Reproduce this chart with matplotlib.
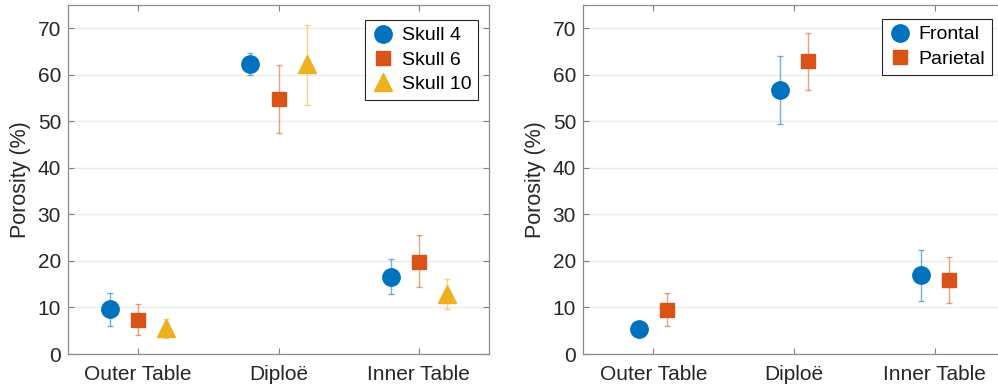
import matplotlib
matplotlib.use("Agg")
import matplotlib.pyplot as plt
import numpy as np

plt.rcParams['font.family'] = ['Liberation Sans', 'DejaVu Sans']

categories = ["Outer Table", "Diploë", "Inner Table"]

# Left panel: per-skull porosity (mean, lower, upper)
skull_names = ["Skull 4", "Skull 6", "Skull 10"]
skull4_mean = [9.7, 62.3, 16.5]
skull4_low = [6.0, 60.0, 12.8]
skull4_high = [13.2, 64.7, 20.5]
skull6_mean = [7.2, 54.8, 19.8]
skull6_low = [4.0, 47.6, 14.3]
skull6_high = [10.8, 62.0, 25.6]
skull10_mean = [5.6, 62.3, 13.0]
skull10_low = [3.4, 53.5, 9.7]
skull10_high = [7.5, 70.8, 16.1]

# Right panel: per-bone porosity
bone_names = ["Frontal", "Parietal"]
frontal_mean = [5.3, 56.7, 17.0]
frontal_low = [5.3, 49.4, 11.4]
frontal_high = [5.3, 64.1, 22.4]
parietal_mean = [9.5, 62.9, 15.8]
parietal_low = [6.0, 56.8, 11.0]
parietal_high = [13.2, 69.0, 20.8]

colors = ['#0072BD', '#D95319', '#EDB120']
markers = ['o', 's', '^']
msizes = [12.5, 10, 13]

W, H = 998, 391
fig = plt.figure(figsize=(W / 100, H / 100), dpi=100)

def make_ax(left_px, right_px):
    top_px, bot_px = 5, 354
    return fig.add_axes([left_px / W, (H - bot_px) / H,
                         (right_px - left_px) / W, (bot_px - top_px) / H])

def style(ax):
    ax.set_xlim(0.5, 3.5)
    ax.set_ylim(0, 75)
    ax.set_xticks([1, 2, 3])
    ax.set_xticklabels(categories, fontsize=15, color='#262626')
    ax.set_yticks(np.arange(0, 71, 10))
    ax.tick_params(axis='y', labelsize=15, labelcolor='#262626', pad=5)
    ax.tick_params(direction='in', top=True, right=True, length=4,
                   color='#808080', width=0.8)
    ax.tick_params(axis='x', pad=8)
    ax.grid(True, axis='y', color='#ebebeb', linewidth=1.0)
    ax.set_axisbelow(True)
    for s in ax.spines.values():
        s.set_color('#8c8c8c')
        s.set_linewidth(0.9)
    ax.set_ylabel("Porosity (%)", fontsize=15.5, color='#262626', labelpad=5)

def draw(ax, means, lows, highs, offsets, names, anchor_px):
    x = np.arange(1, 4)
    for i, (m, lo, hi, off, nm) in enumerate(zip(means, lows, highs, offsets, names)):
        m = np.array(m); lo = np.array(lo); hi = np.array(hi)
        ax.errorbar(x + off, m, yerr=[m - lo, hi - m], fmt='none',
                    ecolor=colors[i], alpha=0.55, elinewidth=1.0,
                    capsize=2.5, capthick=1.0, zorder=2)
        ax.plot(x + off, m, linestyle='none', marker=markers[i],
                markersize=msizes[i], color=colors[i], label=nm, zorder=3)
    ax_right, ax_top = anchor_px
    leg = ax.legend(loc='upper right', fontsize=14, frameon=True, fancybox=False,
                    edgecolor='#262626', framealpha=1, borderpad=0.35,
                    handletextpad=0.42, labelspacing=0.35, handlelength=1.1,
                    borderaxespad=0,
                    bbox_to_anchor=(ax_right / W, (H - ax_top) / H),
                    bbox_transform=fig.transFigure)
    leg.get_frame().set_linewidth(0.8)
    return leg

ax1 = make_ax(68, 489)
style(ax1)
draw(ax1, [skull4_mean, skull6_mean, skull10_mean],
     [skull4_low, skull6_low, skull10_low],
     [skull4_high, skull6_high, skull10_high],
     [-0.2, 0.0, 0.2], skull_names, (478, 20))

ax2 = make_ax(583, 1005)
style(ax2)
draw(ax2, [frontal_mean, parietal_mean],
     [frontal_low, parietal_low],
     [frontal_high, parietal_high],
     [-0.1, 0.1], bone_names, (992, 19))

fig.savefig("out.png", dpi=100)
